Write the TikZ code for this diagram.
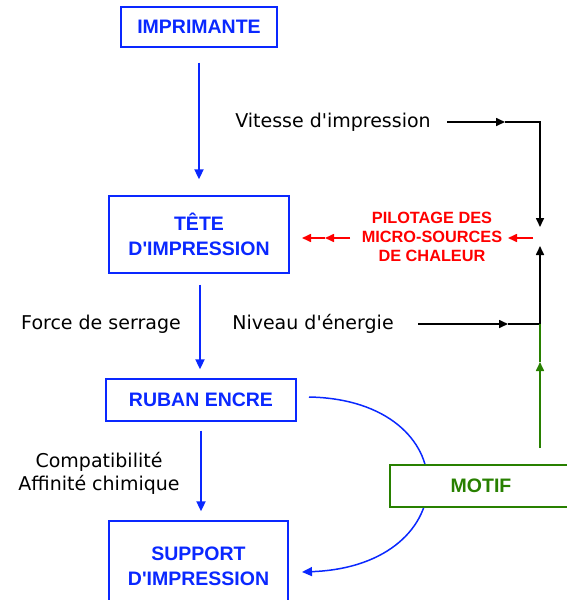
\documentclass[tikz,border=0pt]{standalone}
\usepackage{fontspec}
\newfontfamily\boxfont{Liberation Sans}
\newfontfamily\lblfont{DejaVu Sans}
\usetikzlibrary{arrows.meta}
\definecolor{bl}{RGB}{10,40,255}
\definecolor{gr}{RGB}{40,128,0}
\definecolor{rd}{RGB}{255,0,0}
\begin{document}
\begin{tikzpicture}[x=1pt,y=-1pt,
  box/.style={draw=bl, line width=1.3pt, text=bl, inner sep=0pt, align=center,
    font=\boxfont\fontsize{19.5}{24.5}\selectfont\bfseries},
  lab/.style={font=\lblfont\fontsize{19}{23}\selectfont, text=black, inner sep=0pt, align=center},
  redlab/.style={font=\boxfont\fontsize{16.3}{19}\selectfont\bfseries, text=rd, inner sep=0pt, align=center},
  tri/.style={-{Triangle[length=10pt,width=9pt]}},
  bar/.style={bl, line width=1.8pt, tri},
  ln/.style={black, line width=1.6pt},
  gln/.style={gr, line width=1.6pt},
  rln/.style={rd, line width=1.6pt}]
\useasboundingbox (0,0) rectangle (566,600);

% blue boxes
\node[box, minimum width=156, minimum height=40] (imp) at (199,27) {IMPRIMANTE};
\node[box, minimum width=180, minimum height=77] (tete) at (199,234.5) {TÊTE\\D'IMPRESSION};
\node[box, minimum width=190, minimum height=42] (ruban) at (201,400) {RUBAN ENCRE};
\node[box, minimum width=179, minimum height=91] (supp) at (198.5,566.5) {SUPPORT\\D'IMPRESSION};

% vertical blue arrows
\draw[bar, shorten <=15pt, shorten >=16pt] (imp.south) -- (imp.south |- tete.north);
\draw[bar, shorten <=11pt, shorten >=9pt] ([xshift=1pt]tete.south) -- ([xshift=1pt]tete.south |- ruban.north);
\draw[bar, shorten <=9pt, shorten >=9pt] (ruban.south) -- (ruban.south |- supp.north);

% labels
\node[lab] (vit) at (333,122) {Vitesse d'impression};
\node[lab] (niv) at (313,324) {Niveau d'énergie};
\node[lab] (force) at (101,324) {Force de serrage};
\node[lab] (compat) at (99,473) {Compatibilité\\Affinité chimique};
\node[redlab] (pil) at (432,237) {PILOTAGE DES\\MICRO-SOURCES\\DE CHALEUR};

% right-hand column coordinates
\coordinate (s1) at (447,122);
\coordinate (m1) at (505,122);
\coordinate (c1) at (540,122);
\coordinate (t1) at (540,227);
\coordinate (s2) at (418,324);
\coordinate (m2) at (508,324);
\coordinate (c2) at (540,324);
\coordinate (t2) at (540,246);
\coordinate (g0) at (540,448);
\coordinate (gm) at (540,362);

% black arrows
\draw[ln, -{Triangle[length=9pt,width=8pt]}] (s1) -- (m1);
\draw[ln, -{Triangle[length=9pt,width=8pt]}] (m1) -- (c1) -- (t1);
\draw[ln, -{Triangle[length=9pt,width=8pt]}] (s2) -- (m2);
\draw[ln] (m2) -- (c2);
\draw[ln, -{Triangle[length=9pt,width=8pt]}] (c2) -- (t2);

% green arrow
\draw[gln, -{Triangle[length=9pt,width=8pt]}] (g0) -- (gm);
\draw[gln] (gm) -- (c2);

% red arrows
\coordinate (r0) at (533,238);
\coordinate (r1) at (508,238);
\coordinate (r2) at (350,238);
\coordinate (r3) at (325,238);
\coordinate (r4) at (302,238);
\draw[rln, -{Triangle[length=9pt,width=8pt]}] (r0) -- (r1);
\draw[rln, -{Triangle[length=9pt,width=8pt]}] (r2) -- (r3);
\draw[rln, -{Triangle[length=9pt,width=8pt]}] (r3) -- (r4);

% curved arrow from ruban to support
\coordinate (cs) at (309,397);
\coordinate (ce) at (302,572);
\draw[bl, line width=1.5pt, -{Triangle[length=10pt,width=9pt]}] (cs) .. controls (467,400) and (467,566) .. (ce);

% motif box
\node[box, draw=gr, text=gr, fill=white, minimum width=182, minimum height=42] (motif) at (481,486) {MOTIF};
\end{tikzpicture}
\end{document}
